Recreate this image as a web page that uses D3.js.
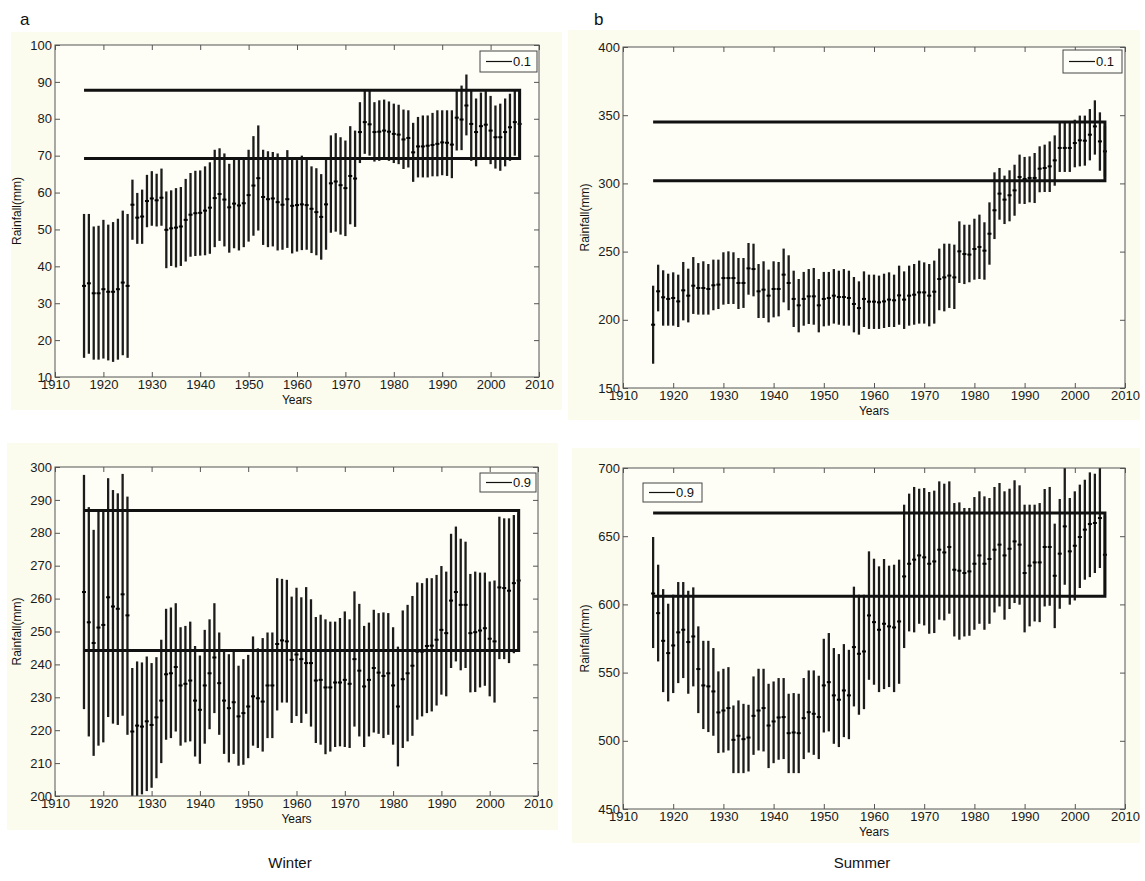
<!DOCTYPE html>
<html>
<head>
<meta charset="utf-8">
<script src="https://cdn.jsdelivr.net/npm/d3@7"></script>
<style>
  body { margin: 0; background: #fff; }
  svg { display: block; font-family: "Liberation Sans", Arial, sans-serif; }
</style>
</head>
<body>
<svg id="fig"></svg>
<script>
const years = d3.range(1916, 2007);

// Winter, quantile 0.1
const winter01Hi = [
  54.2, 54.2, 50.8, 51.0, 52.6, 51.3, 52.0, 52.9, 55.1, 54.2,
  63.5, 59.9, 60.8, 64.8, 65.8, 65.1, 66.5, 60.3, 60.6, 61.2,
  61.5, 63.7, 65.3, 65.9, 66.0, 67.1, 68.2, 71.6, 72.0, 70.6,
  67.8, 68.9, 68.9, 68.9, 71.6, 75.3, 78.2, 71.6, 71.2, 71.0,
  70.6, 68.9, 71.5, 68.9, 68.8, 70.0, 69.1, 67.1, 66.6, 65.0,
  69.1, 75.5, 76.1, 75.0, 74.1, 78.0, 76.8, 84.5, 88.0, 88.0,
  84.5, 85.0, 85.2, 84.7, 84.1, 83.8, 82.5, 82.3, 78.9, 80.5,
  80.9, 80.9, 81.6, 82.3, 82.3, 82.3, 82.3, 88.0, 89.0, 92.0,
  88.0, 85.5, 87.1, 87.5, 86.2, 83.6, 84.1, 85.5, 86.8, 88.0, 88.0
];
const winter01Lo = [
  15.2, 16.3, 14.7, 14.7, 15.0, 14.5, 14.1, 14.7, 15.9, 15.2,
  47.2, 46.1, 46.1, 50.6, 51.0, 50.8, 51.0, 39.5, 40.1, 39.7,
  40.1, 41.3, 42.6, 42.8, 42.9, 43.0, 43.4, 45.2, 46.9, 45.4,
  43.7, 44.9, 44.3, 45.2, 46.7, 48.3, 49.7, 45.8, 45.2, 45.4,
  44.3, 44.5, 45.0, 43.5, 44.0, 44.4, 44.5, 43.6, 43.0, 41.8,
  44.5, 49.1, 49.4, 48.6, 48.2, 51.4, 50.7, 68.0, 70.5, 70.0,
  68.4, 68.6, 68.9, 68.6, 68.0, 67.7, 66.4, 66.8, 62.9, 64.1,
  64.1, 64.1, 64.4, 64.4, 64.7, 64.5, 63.9, 71.4, 71.5, 75.5,
  68.6, 67.1, 68.9, 69.1, 67.7, 66.5, 65.9, 67.1, 68.6, 70.0, 70.0
];
const winter01Mid = [
  34.7, 35.4, 32.7, 32.7, 33.8, 33.1, 33.1, 33.8, 35.6, 34.7,
  56.7, 53.2, 53.5, 57.7, 58.4, 57.9, 58.6, 49.9, 50.3, 50.5,
  50.8, 52.6, 54.0, 54.4, 54.5, 55.1, 55.9, 58.5, 59.6, 58.1,
  56.0, 57.0, 56.5, 57.1, 59.3, 61.9, 63.9, 58.8, 58.2, 58.4,
  57.4, 56.7, 58.2, 56.4, 56.6, 56.8, 56.6, 55.6, 54.7, 53.4,
  56.8, 62.5, 63.0, 62.0, 61.2, 64.5, 63.8, 76.4, 79.1, 78.5,
  76.4, 76.5, 76.8, 76.5, 75.9, 75.7, 74.4, 74.8, 70.9, 72.5,
  72.5, 72.7, 72.9, 73.2, 73.6, 73.5, 73.0, 80.3, 79.8, 83.6,
  78.6, 76.4, 78.0, 78.4, 76.8, 75.0, 75.0, 76.4, 77.7, 79.1, 78.6
];
const winter01Band = [87.7, 69.2];

// Summer, quantile 0.1
const summer01Hi = [
  225.0, 240.4, 236.3, 233.8, 234.8, 233.1, 242.4, 237.5, 246.0, 241.6,
  242.9, 240.9, 244.1, 244.1, 249.5, 250.2, 249.5, 245.3, 245.3, 256.3,
  255.8, 240.9, 242.9, 236.8, 242.9, 242.4, 252.2, 247.3, 236.0, 229.9,
  235.1, 237.2, 238.0, 229.9, 235.1, 235.1, 237.2, 236.0, 237.2, 236.0,
  231.4, 228.2, 235.5, 233.1, 233.1, 232.4, 233.8, 234.8, 233.1, 239.7,
  235.5, 239.7, 240.9, 243.4, 242.1, 240.9, 243.4, 252.2, 255.8, 255.8,
  255.1, 272.2, 269.7, 269.7, 274.1, 277.1, 271.5, 286.1, 308.1, 311.3,
  305.7, 309.6, 313.7, 321.1, 319.4, 319.8, 322.3, 327.2, 328.4, 330.8,
  335.2, 344.3, 344.3, 344.3, 346.7, 349.7, 349.7, 354.5, 360.9, 352.1, 342.0
];
const summer01Lo = [
  167.8, 206.2, 195.7, 195.7, 195.7, 194.7, 199.6, 198.1, 204.3, 203.8,
  203.8, 203.8, 207.0, 207.9, 211.1, 211.6, 211.6, 207.9, 208.7, 218.4,
  217.2, 201.3, 201.3, 198.1, 201.8, 202.5, 212.8, 207.0, 194.7, 190.8,
  195.7, 196.9, 196.4, 190.8, 195.2, 195.7, 197.2, 196.4, 195.7, 195.7,
  190.8, 189.1, 194.7, 193.3, 193.3, 193.3, 194.0, 194.7, 194.7, 196.4,
  193.3, 195.7, 196.4, 197.2, 197.2, 195.2, 197.2, 207.0, 206.2, 208.7,
  207.9, 227.0, 226.2, 227.5, 229.4, 229.9, 229.4, 240.4, 259.2, 273.4,
  270.2, 272.2, 276.3, 285.1, 284.9, 286.1, 285.6, 293.5, 293.7, 293.7,
  298.3, 308.4, 308.4, 308.4, 311.8, 312.5, 313.0, 316.9, 321.1, 309.3, 305.0
];
const summer01Mid = [
  196.4, 220.9, 216.5, 215.3, 216.0, 213.5, 221.6, 217.7, 225.0, 223.3,
  223.3, 222.6, 225.3, 225.8, 230.6, 230.6, 230.6, 227.0, 227.0, 237.7,
  237.2, 220.9, 222.1, 217.7, 222.6, 222.6, 233.1, 227.0, 215.3, 210.6,
  215.3, 217.2, 217.2, 210.6, 215.3, 216.0, 217.7, 216.7, 216.7, 216.0,
  211.6, 208.6, 215.3, 213.3, 213.3, 212.8, 213.5, 214.8, 214.3, 217.9,
  214.8, 217.7, 218.4, 220.1, 220.1, 217.7, 220.6, 229.9, 231.1, 232.4,
  231.1, 250.2, 248.2, 247.8, 251.9, 253.4, 250.7, 263.1, 280.3, 292.5,
  288.1, 291.3, 294.9, 304.7, 303.2, 304.0, 304.0, 310.8, 311.3, 312.5,
  316.9, 326.0, 326.0, 326.0, 329.6, 331.6, 331.3, 335.7, 341.8, 330.8, 323.5
];
const summer01Band = [345.0, 302.0];

// Winter, quantile 0.9
const winter09Hi = [
  297.6, 287.8, 280.9, 286.5, 287.2, 296.6, 293.0, 292.0, 297.9, 291.0,
  238.9, 240.9, 240.6, 242.4, 240.4, 242.2, 247.5, 256.9, 257.3, 258.6,
  251.3, 251.7, 253.0, 245.6, 242.7, 250.5, 253.7, 258.6, 249.7, 244.1,
  243.1, 243.9, 239.6, 241.6, 242.9, 248.5, 244.9, 248.0, 249.7, 249.7,
  266.2, 266.0, 265.7, 260.6, 263.3, 260.4, 263.5, 259.8, 254.4, 255.1,
  253.7, 253.0, 253.0, 254.1, 256.1, 253.7, 262.2, 258.4, 251.7, 252.7,
  256.6, 255.6, 255.8, 255.6, 251.3, 245.4, 256.4, 258.1, 260.8, 264.9,
  264.7, 266.2, 266.2, 267.2, 269.9, 268.2, 279.7, 281.9, 278.2, 277.3,
  267.5, 268.2, 267.9, 267.9, 265.2, 265.5, 284.9, 284.4, 284.4, 285.4, 286.0
];
const winter09Lo = [
  226.4, 218.1, 212.2, 215.3, 216.3, 224.0, 222.0, 221.6, 224.4, 218.6,
  200.0, 200.0, 200.5, 201.5, 202.5, 205.4, 210.0, 217.1, 217.6, 219.6,
  215.3, 216.3, 216.6, 212.0, 209.8, 215.9, 220.3, 225.2, 218.6, 212.8,
  210.2, 212.8, 209.2, 209.5, 211.5, 215.3, 214.6, 213.5, 217.6, 217.6,
  226.0, 228.4, 228.4, 222.2, 224.3, 222.2, 225.0, 221.1, 216.1, 215.6,
  212.7, 213.5, 214.9, 215.1, 214.9, 214.6, 221.1, 218.1, 214.9, 218.1,
  219.3, 218.9, 217.6, 218.6, 215.6, 209.0, 214.6, 216.6, 218.3, 223.2,
  224.2, 225.2, 225.7, 227.5, 230.8, 230.3, 238.9, 240.9, 238.2, 238.9,
  231.5, 231.6, 233.0, 233.5, 230.3, 228.4, 241.6, 241.6, 240.4, 243.4, 244.0
];
const winter09Mid = [
  262.0, 252.8, 246.5, 251.2, 252.0, 260.4, 257.6, 256.9, 261.3, 254.9,
  219.6, 221.4, 221.1, 222.7, 221.6, 223.9, 229.0, 237.0, 237.3, 239.2,
  233.6, 234.1, 235.1, 229.0, 226.2, 233.6, 237.3, 242.1, 234.3, 229.0,
  226.7, 228.5, 224.2, 225.2, 227.2, 230.3, 229.7, 228.7, 233.6, 233.6,
  246.2, 247.3, 247.0, 241.4, 243.0, 241.6, 240.4, 240.4, 235.1, 235.3,
  233.0, 233.0, 234.5, 234.5, 235.3, 234.1, 241.6, 238.1, 233.3, 235.3,
  238.9, 237.5, 236.5, 237.3, 233.6, 227.2, 235.5, 237.3, 239.6, 243.9,
  243.9, 245.6, 245.7, 247.5, 250.5, 249.5, 259.4, 262.0, 258.1, 258.1,
  249.5, 249.8, 250.3, 251.0, 247.8, 247.0, 263.4, 263.2, 262.4, 264.7, 265.5
];
const winter09Band = [286.8, 244.2];

// Summer, quantile 0.9
const summer09Hi = [
  649.4, 629.1, 611.2, 600.5, 607.1, 616.4, 616.4, 610.0, 612.5, 583.9,
  573.3, 573.3, 568.0, 550.9, 552.8, 554.0, 525.9, 529.6, 527.1, 526.4,
  547.2, 552.8, 552.8, 541.8, 543.5, 546.0, 546.0, 534.5, 535.0, 534.5,
  546.0, 551.6, 551.6, 547.7, 574.8, 579.0, 568.0, 563.6, 570.9, 566.7,
  613.0, 607.1, 607.1, 638.9, 633.5, 627.9, 633.3, 628.4, 629.1, 632.8,
  673.1, 681.2, 686.1, 684.8, 685.3, 682.4, 683.4, 690.2, 688.5, 690.2,
  674.3, 674.8, 670.7, 670.7, 678.7, 682.9, 679.2, 678.0, 686.1, 689.0,
  682.9, 684.8, 691.0, 687.3, 673.1, 673.1, 673.1, 674.3, 684.6, 686.1,
  659.2, 677.3, 700.0, 678.0, 682.9, 687.8, 691.4, 696.8, 695.8, 700.0, 665.0
];
const summer09Lo = [
  568.0, 558.2, 535.7, 528.9, 535.0, 542.3, 546.0, 534.5, 539.9, 520.3,
  508.6, 506.4, 503.7, 491.0, 491.4, 492.9, 476.3, 476.3, 476.3, 477.5,
  489.7, 492.9, 492.2, 480.0, 483.6, 486.1, 486.6, 476.3, 476.3, 476.3,
  486.6, 491.4, 489.7, 486.6, 506.1, 506.9, 497.8, 495.4, 502.7, 501.2,
  525.2, 519.1, 523.2, 544.7, 541.1, 535.7, 537.9, 539.4, 535.7, 541.8,
  568.0, 580.2, 579.5, 585.8, 584.6, 578.5, 579.0, 588.8, 588.3, 593.2,
  576.5, 574.1, 576.5, 577.0, 581.4, 585.8, 581.4, 585.8, 594.1, 598.5,
  588.8, 596.6, 601.0, 599.8, 579.5, 583.9, 587.5, 587.0, 598.5, 599.0,
  582.6, 596.8, 614.4, 599.8, 602.9, 612.0, 618.1, 620.0, 623.0, 626.7, 607.0
];
const summer09Mid = [
  608.0, 593.6, 573.3, 564.3, 569.9, 579.5, 581.4, 572.4, 576.5, 552.6,
  540.6, 539.9, 536.2, 520.8, 522.2, 524.0, 500.7, 503.7, 501.2, 502.4,
  518.3, 522.2, 524.0, 511.2, 514.2, 517.1, 517.4, 505.6, 506.1, 505.6,
  516.6, 521.0, 519.8, 517.4, 540.6, 543.0, 533.3, 530.1, 536.9, 533.3,
  568.7, 563.8, 565.5, 591.9, 587.0, 581.4, 585.8, 583.9, 583.1, 587.5,
  620.5, 629.8, 632.8, 635.9, 634.5, 629.8, 631.5, 640.1, 638.1, 642.1,
  625.4, 624.7, 623.0, 624.2, 629.8, 635.9, 629.8, 633.3, 640.1, 643.8,
  635.9, 640.8, 646.2, 643.8, 623.0, 628.4, 630.8, 630.8, 642.1, 642.1,
  621.0, 637.2, 657.2, 638.9, 643.0, 649.4, 654.8, 658.9, 659.7, 663.3, 636.4
];
const summer09Band = [667.0, 605.9];

const xTicks = d3.range(1910, 2011, 10);

const width = 1145, height = 881;
const svg = d3.select("#fig").attr("width", width).attr("height", height);

// panel layout: bg = figure area, box = axes area
const panels = [
  { id: "tl", hi: winter01Hi, lo: winter01Lo, mid: winter01Mid, band: winter01Band,
    yDomain: [10, 100], yTicks: d3.range(10, 101, 10), legend: "0.1",
    bg: [11, 32, 562, 410], box: [55, 45, 539, 377], leg: [480, 51, 537, 72] },
  { id: "tr", hi: summer01Hi, lo: summer01Lo, mid: summer01Mid, band: summer01Band,
    yDomain: [150, 400], yTicks: d3.range(150, 401, 50), legend: "0.1",
    bg: [568, 30, 1140, 420], box: [623, 47, 1125, 388], leg: [1063, 50, 1122, 73] },
  { id: "bl", hi: winter09Hi, lo: winter09Lo, mid: winter09Mid, band: winter09Band,
    yDomain: [200, 300], yTicks: d3.range(200, 301, 10), legend: "0.9",
    bg: [7, 443, 558, 830], box: [55, 467, 538, 796], leg: [480, 473, 536, 492] },
  { id: "br", hi: summer09Hi, lo: summer09Lo, mid: summer09Mid, band: summer09Band,
    yDomain: [450, 700], yTicks: d3.range(450, 701, 50), legend: "0.9",
    bg: [572, 448, 1140, 843], box: [623, 468, 1125, 809], leg: [643, 483, 702, 502] }
];

panels.forEach(drawPanel);

// panel letters and season captions
svg.append("text").attr("x", 20).attr("y", 25).attr("font-size", 17).attr("fill", "#111").text("a");
svg.append("text").attr("x", 594).attr("y", 25).attr("font-size", 17).attr("fill", "#111").text("b");
svg.append("text").attr("x", 290).attr("y", 868).attr("text-anchor", "middle")
  .attr("font-size", 15).attr("fill", "#111").text("Winter");
svg.append("text").attr("x", 862).attr("y", 868).attr("text-anchor", "middle")
  .attr("font-size", 15).attr("fill", "#111").text("Summer");

function drawPanel(p) {
  const [x0, y0, x1, y1] = p.box;
  const g = svg.append("g");

  g.append("rect")
    .attr("x", p.bg[0]).attr("y", p.bg[1])
    .attr("width", p.bg[2] - p.bg[0]).attr("height", p.bg[3] - p.bg[1])
    .attr("fill", "#fbfbee");
  g.append("rect")
    .attr("x", x0).attr("y", y0).attr("width", x1 - x0).attr("height", y1 - y0)
    .attr("fill", "#fefef6");

  const x = d3.scaleLinear().domain([1910, 2010]).range([x0, x1]);
  const y = d3.scaleLinear().domain(p.yDomain).range([y1, y0]);

  g.append("clipPath").attr("id", "clip-" + p.id)
    .append("rect").attr("x", x0).attr("y", y0).attr("width", x1 - x0).attr("height", y1 - y0);
  const plot = g.append("g").attr("clip-path", `url(#clip-${p.id})`);

  // error bars
  plot.selectAll("line.bar")
    .data(years)
    .join("line")
    .attr("class", "bar")
    .attr("x1", d => x(d)).attr("x2", d => x(d))
    .attr("y1", (d, i) => y(p.lo[i]))
    .attr("y2", (d, i) => y(p.hi[i]))
    .attr("stroke", "#1c1c1c")
    .attr("stroke-width", 2.3);

  // median markers
  plot.selectAll("rect.mid")
    .data(years)
    .join("rect")
    .attr("class", "mid")
    .attr("x", d => x(d) - 2)
    .attr("y", (d, i) => y(p.mid[i]) - 1)
    .attr("width", 4).attr("height", 2)
    .attr("fill", "#000");

  // band lines (upper, right edge, lower)
  const bandPts = [[1916, p.band[0]], [2006, p.band[0]], [2006, p.band[1]], [1916, p.band[1]]];
  plot.append("path")
    .attr("d", d3.line().x(d => x(d[0])).y(d => y(d[1]))(bandPts))
    .attr("fill", "none")
    .attr("stroke", "#111")
    .attr("stroke-width", 3);

  // axes with inward ticks, MATLAB style
  const axisStyle = a => a.call(s => s.select(".domain").remove())
    .call(s => s.selectAll(".tick line").attr("stroke", "#555"))
    .call(s => s.selectAll(".tick text").attr("fill", "#1a1a1a").attr("font-size", 13)
      .attr("font-family", "Liberation Sans, Arial, sans-serif"));

  g.append("g").attr("transform", `translate(0,${y1})`)
    .call(d3.axisBottom(x).tickValues(xTicks).tickFormat(d3.format("d"))
      .tickSizeInner(-5).tickSizeOuter(0).tickPadding(3))
    .call(axisStyle);
  g.append("g").attr("transform", `translate(0,${y0})`)
    .call(d3.axisTop(x).tickValues(xTicks).tickFormat("")
      .tickSizeInner(-5).tickSizeOuter(0))
    .call(axisStyle);
  g.append("g").attr("transform", `translate(${x0},0)`)
    .call(d3.axisLeft(y).tickValues(p.yTicks).tickFormat(d3.format("d"))
      .tickSizeInner(-5).tickSizeOuter(0).tickPadding(3))
    .call(axisStyle);
  g.append("g").attr("transform", `translate(${x1},0)`)
    .call(d3.axisRight(y).tickValues(p.yTicks).tickFormat("")
      .tickSizeInner(-5).tickSizeOuter(0))
    .call(axisStyle);

  g.append("rect")
    .attr("x", x0).attr("y", y0).attr("width", x1 - x0).attr("height", y1 - y0)
    .attr("fill", "none").attr("stroke", "#555").attr("stroke-width", 1);

  // axis titles
  g.append("text")
    .attr("x", (x0 + x1) / 2).attr("y", y1 + 27)
    .attr("text-anchor", "middle").attr("font-size", 12).attr("fill", "#111")
    .text("Years");
  g.append("text")
    .attr("transform", `translate(${x0 - 34},${(y0 + y1) / 2}) rotate(-90)`)
    .attr("text-anchor", "middle").attr("font-size", 12).attr("fill", "#111")
    .text("Rainfall(mm)");

  // legend
  const [lx0, ly0, lx1, ly1] = p.leg;
  const lg = g.append("g");
  lg.append("rect")
    .attr("x", lx0).attr("y", ly0).attr("width", lx1 - lx0).attr("height", ly1 - ly0)
    .attr("fill", "#fffffa").attr("stroke", "#444").attr("stroke-width", 1);
  lg.append("line")
    .attr("x1", lx0 + 6).attr("x2", lx0 + 32)
    .attr("y1", (ly0 + ly1) / 2).attr("y2", (ly0 + ly1) / 2)
    .attr("stroke", "#111").attr("stroke-width", 1.2);
  lg.append("text")
    .attr("x", lx0 + 33).attr("y", (ly0 + ly1) / 2 + 4.5)
    .attr("font-size", 13).attr("fill", "#111")
    .text(p.legend);
}
</script>
</body>
</html>
